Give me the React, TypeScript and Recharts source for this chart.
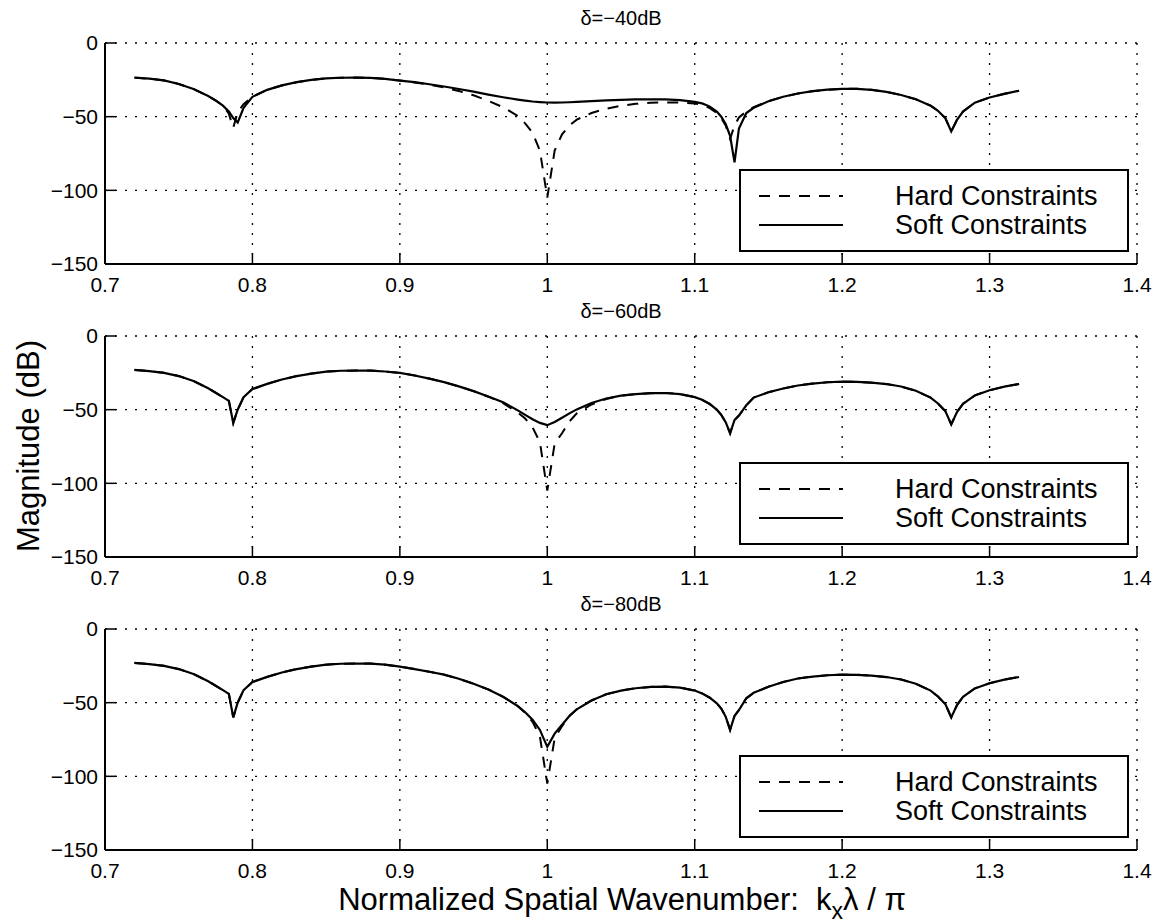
import React from 'react';
import { LineChart, Line, XAxis, YAxis, CartesianGrid, Legend } from 'recharts';

const FONT = '"Liberation Sans", Arial, Helvetica, sans-serif';

// normalized spatial wavenumber kx*lambda/pi (shared sample grid)
const kx = [
  0.72, 0.73, 0.74, 0.75, 0.76, 0.77, 0.775, 0.78, 0.784, 0.787, 0.79, 0.794,
  0.8, 0.81, 0.82, 0.83, 0.84, 0.85, 0.86, 0.87, 0.88, 0.89, 0.9, 0.91, 0.92,
  0.93, 0.94, 0.95, 0.96, 0.97, 0.98, 0.985, 0.99, 0.995, 1.0, 1.005, 1.01,
  1.015, 1.02, 1.03, 1.04, 1.05, 1.06, 1.07, 1.08, 1.09, 1.1, 1.105, 1.11,
  1.115, 1.118, 1.121, 1.124, 1.127, 1.13, 1.135, 1.14, 1.15, 1.16, 1.17,
  1.18, 1.19, 1.2, 1.21, 1.22, 1.23, 1.24, 1.25, 1.26, 1.265, 1.27, 1.274,
  1.278, 1.282, 1.29, 1.3, 1.31, 1.32,
];

// delta = -40 dB
const hard40 = [
  -23.5, -24.2, -25.4, -27.8, -31.2, -36, -39, -42.5, -48, -57.5, -47, -41.5,
  -36.5, -31.8, -28.8, -26.6, -25, -24, -23.6, -23.5, -23.7, -24.4, -25.5,
  -26.8, -28.3, -30.2, -32.6, -35.5, -39.2, -43.6, -49.5, -54.5, -61, -73,
  -105, -73, -62, -56, -52, -47.5, -44.6, -42.6, -41.3, -40.6, -40.3, -40.4,
  -41, -42, -44, -47.5, -51, -56, -65, -56, -50.5, -46.5, -43.5, -39.5, -36.5,
  -34.3, -32.7, -31.7, -31.1, -31.1, -31.8, -33.2, -35.3, -38.2, -42.5, -46,
  -51, -60, -52, -46.5, -40.5, -37, -34.5, -32.4,
];
const soft40 = [
  -23.5, -24.2, -25.4, -27.8, -31.2, -36, -39, -42.5, -46.5, -51, -54, -44,
  -36.5, -31.8, -28.8, -26.6, -25, -24, -23.6, -23.5, -23.7, -24.4, -25.5,
  -26.6, -28, -29.5, -31.2, -33, -35, -36.8, -38.4, -39.1, -39.7, -40.1, -40.4,
  -40.5, -40.4, -40.2, -40, -39.5, -39, -38.6, -38.3, -38.2, -38.3, -38.8,
  -40, -41, -43, -46.5, -50, -55, -63, -81, -58, -47.5, -44, -39.5, -36.5,
  -34.3, -32.7, -31.7, -31.1, -31.1, -31.8, -33.2, -35.3, -38.2, -42.5, -46,
  -51, -60, -52, -46.5, -40.5, -37, -34.5, -32.4,
];

// delta = -60 dB
const hard60 = [
  -23, -23.8, -25, -27.2, -30.5, -35.5, -38.5, -41.5, -44, -59, -50, -41.5,
  -36, -32.5, -29.5, -27.2, -25.5, -24.2, -23.6, -23.4, -23.5, -24.1, -25,
  -26.8, -28.9, -31.3, -34.2, -37.4, -41.2, -45.5, -52, -56, -62, -72, -105,
  -73, -66, -58, -52.5, -46.5, -42.8, -40.5, -39.4, -38.8, -38.7, -39.4, -41.5,
  -43.3, -46, -50, -53.5, -58.5, -66, -57, -54, -47, -41.8, -38.2, -35.6,
  -33.6, -32.3, -31.4, -31, -31.1, -31.7, -32.6, -34.3, -37.2, -41.8, -45.8,
  -51, -60, -51.5, -46, -40.3, -36.8, -34.4, -32.6,
];
const soft60 = [
  -23, -23.8, -25, -27.2, -30.5, -35.5, -38.5, -41.5, -44, -59, -50, -41.5,
  -36, -32.5, -29.5, -27.2, -25.5, -24.2, -23.6, -23.4, -23.5, -24.1, -25,
  -26.8, -28.9, -31.3, -34.2, -37.4, -41, -45, -50.5, -53.5, -56.5, -59, -60.5,
  -58.3, -55.5, -52.5, -49.8, -45.5, -42.4, -40.5, -39.4, -38.8, -38.7, -39.4,
  -41.5, -43.3, -46, -50, -53.5, -58.5, -66, -57, -54, -47, -41.8, -38.2,
  -35.6, -33.6, -32.3, -31.4, -31, -31.1, -31.7, -32.6, -34.3, -37.2, -41.8,
  -45.8, -51, -60, -51.5, -46, -40.3, -36.8, -34.4, -32.6,
];

// delta = -80 dB
const hard80 = [
  -23, -23.8, -25, -27.2, -30.5, -35.5, -38.5, -41.5, -44, -60, -50, -41.5,
  -36, -32.5, -29.5, -27.2, -25.5, -24.2, -23.6, -23.4, -23.5, -24.2, -25.5,
  -27.2, -29, -31, -33.8, -37.2, -41, -46, -52.3, -57, -63, -73, -105, -74,
  -66, -59, -54.5, -48.5, -44.3, -41.8, -40.2, -39.3, -39.1, -39.8, -41.8,
  -43.7, -46.5, -50.5, -54, -59.5, -68.5, -59, -55, -47, -43.3, -39.2, -36,
  -33.6, -32.3, -31.4, -31, -31.1, -31.7, -32.6, -34.3, -37.2, -41.8, -45.8,
  -51, -60, -51.5, -46, -40.3, -36.8, -34.4, -32.6,
];
const soft80 = [
  -23, -23.8, -25, -27.2, -30.5, -35.5, -38.5, -41.5, -44, -60, -50, -41.5,
  -36, -32.5, -29.5, -27.2, -25.5, -24.2, -23.6, -23.4, -23.5, -24.2, -25.5,
  -27.2, -29, -31, -33.8, -37.2, -41, -46, -52.3, -56.5, -61.5, -68.5, -80,
  -71, -65, -59, -54.5, -48.5, -44.3, -41.8, -40.2, -39.3, -39.1, -39.8, -41.8,
  -43.7, -46.5, -50.5, -54, -59.5, -68.5, -59, -55, -47, -43.3, -39.2, -36,
  -33.6, -32.3, -31.4, -31, -31.1, -31.7, -32.6, -34.3, -37.2, -41.8, -45.8,
  -51, -60, -51.5, -46, -40.3, -36.8, -34.4, -32.6,
];

const titles = ['δ=−40dB', 'δ=−60dB', 'δ=−80dB'];
const hardSeries = [hard40, hard60, hard80];
const softSeries = [soft40, soft60, soft80];

const xTicks = [0.7, 0.8, 0.9, 1.0, 1.1, 1.2, 1.3, 1.4];
const xTickLabels = ['0.7', '0.8', '0.9', '1', '1.1', '1.2', '1.3', '1.4'];
const yTicks = [-150, -100, -50, 0];
const yTickLabels = ['−150', '−100', '−50', '0'];

const PANEL_STEP = 293;
const CHART_H = 302;

const xLabel = (v: number) => {
  const i = xTicks.findIndex((t) => Math.abs(t - v) < 1e-6);
  return i >= 0 ? xTickLabels[i] : '';
};
const yLabel = (v: number) => {
  const i = yTicks.indexOf(v);
  return i >= 0 ? yTickLabels[i] : '';
};

const LegendBox = (props: any) => {
  const items = props.payload || [];
  return (
    <svg width={390} height={83} style={{ display: 'block' }}>
      <rect x={1} y={1} width={388} height={81} fill="#fff" stroke="#000" strokeWidth={2} />
      {items.map((it: any, i: number) => (
        <g key={it.value}>
          <line
            x1={20}
            x2={104}
            y1={27 + i * 29}
            y2={27 + i * 29}
            stroke="#000"
            strokeWidth={2}
            strokeDasharray={it.payload?.strokeDasharray}
          />
          <text x={156} y={27 + i * 29} dominantBaseline="central" fontSize={27} fontFamily={FONT} fill="#000">
            {it.value}
          </text>
        </g>
      ))}
    </svg>
  );
};

const Panel: React.FC<{ idx: number }> = ({ idx }) => {
  const hard = hardSeries[idx];
  const soft = softSeries[idx];
  const data = kx.map((x, i) => ({ kx: x, hard: hard[i], soft: soft[i] }));
  const tickStyle = { fill: '#000', fontSize: 21, fontFamily: FONT };
  return (
    <div style={{ position: 'absolute', left: 0, top: idx * PANEL_STEP, width: 1160, height: CHART_H }}>
      <div
        style={{
          position: 'absolute', left: 421, width: 400, top: 6, textAlign: 'center',
          fontSize: 20, lineHeight: '24px', fontFamily: FONT, color: '#000',
        }}
      >
        {titles[idx]}
      </div>
      <LineChart width={1160} height={CHART_H} data={data} margin={{ top: 43, right: 23, bottom: 13, left: 45 }}>
        <CartesianGrid stroke="#000" strokeWidth={1.3} strokeDasharray="2 8" />
        <XAxis
          dataKey="kx" type="number" domain={[0.7, 1.4]} ticks={xTicks} interval={0}
          allowDataOverflow height={25} tickSize={-11} tickMargin={24}
          tickFormatter={xLabel} tick={tickStyle}
          axisLine={{ stroke: '#000', strokeWidth: 2 }} tickLine={{ stroke: '#000', strokeWidth: 1.5 }}
        />
        <XAxis
          xAxisId="t" orientation="top" type="number" domain={[0.7, 1.4]} ticks={xTicks} interval={0}
          height={0} tickSize={-11} tickFormatter={() => ''}
          axisLine={{ stroke: '#000', strokeWidth: 2 }} tickLine={{ stroke: '#000', strokeWidth: 1.5 }}
        />
        <YAxis
          type="number" domain={[-150, 0]} ticks={yTicks} interval={0} allowDataOverflow
          width={60} tickSize={-11} tickMargin={18} tickFormatter={yLabel} tick={tickStyle}
          axisLine={{ stroke: '#000', strokeWidth: 2 }} tickLine={{ stroke: '#000', strokeWidth: 1.5 }}
        />
        <YAxis
          yAxisId="r" orientation="right" type="number" domain={[-150, 0]} ticks={yTicks} interval={0}
          width={0} tickSize={-11} tickFormatter={() => ''}
          axisLine={{ stroke: '#000', strokeWidth: 2 }} tickLine={{ stroke: '#000', strokeWidth: 1.5 }}
        />
        <Line
          type="linear" dataKey="hard" name="Hard Constraints" stroke="#000" strokeWidth={2}
          strokeDasharray="11 9" dot={false} activeDot={false} isAnimationActive={false}
        />
        <Line
          type="linear" dataKey="soft" name="Soft Constraints" stroke="#000" strokeWidth={2.2}
          dot={false} activeDot={false} isAnimationActive={false}
        />
        <Legend
          layout="horizontal" verticalAlign="middle" align="center" content={LegendBox}
          wrapperStyle={{ left: 739, top: 169, width: 390, height: 83 }}
        />
      </LineChart>
    </div>
  );
};

const App: React.FC = () => {
  return (
    <div style={{ position: 'absolute', left: 0, top: 0, width: 1160, height: 924, background: '#fff', fontFamily: FONT }}>
      {[0, 1, 2].map((i) => (
        <Panel key={i} idx={i} />
      ))}
      <svg width={60} height={924} style={{ position: 'absolute', left: 0, top: 0 }}>
        <text
          transform="translate(28,446) rotate(-90)" textAnchor="middle" dominantBaseline="central"
          fontSize={31} fontFamily={FONT} fill="#000"
        >
          Magnitude (dB)
        </text>
      </svg>
      <svg width={1160} height={44} style={{ position: 'absolute', left: 0, top: 880 }}>
        <text x={622} y={30} textAnchor="middle" fontSize={31} fontFamily={FONT} fill="#000" xmlSpace="preserve">
          Normalized Spatial Wavenumber:  k
          <tspan dy={9} fontSize={23}>x</tspan>
          <tspan dy={-9}>λ / π</tspan>
        </text>
      </svg>
    </div>
  );
};

export default App;
